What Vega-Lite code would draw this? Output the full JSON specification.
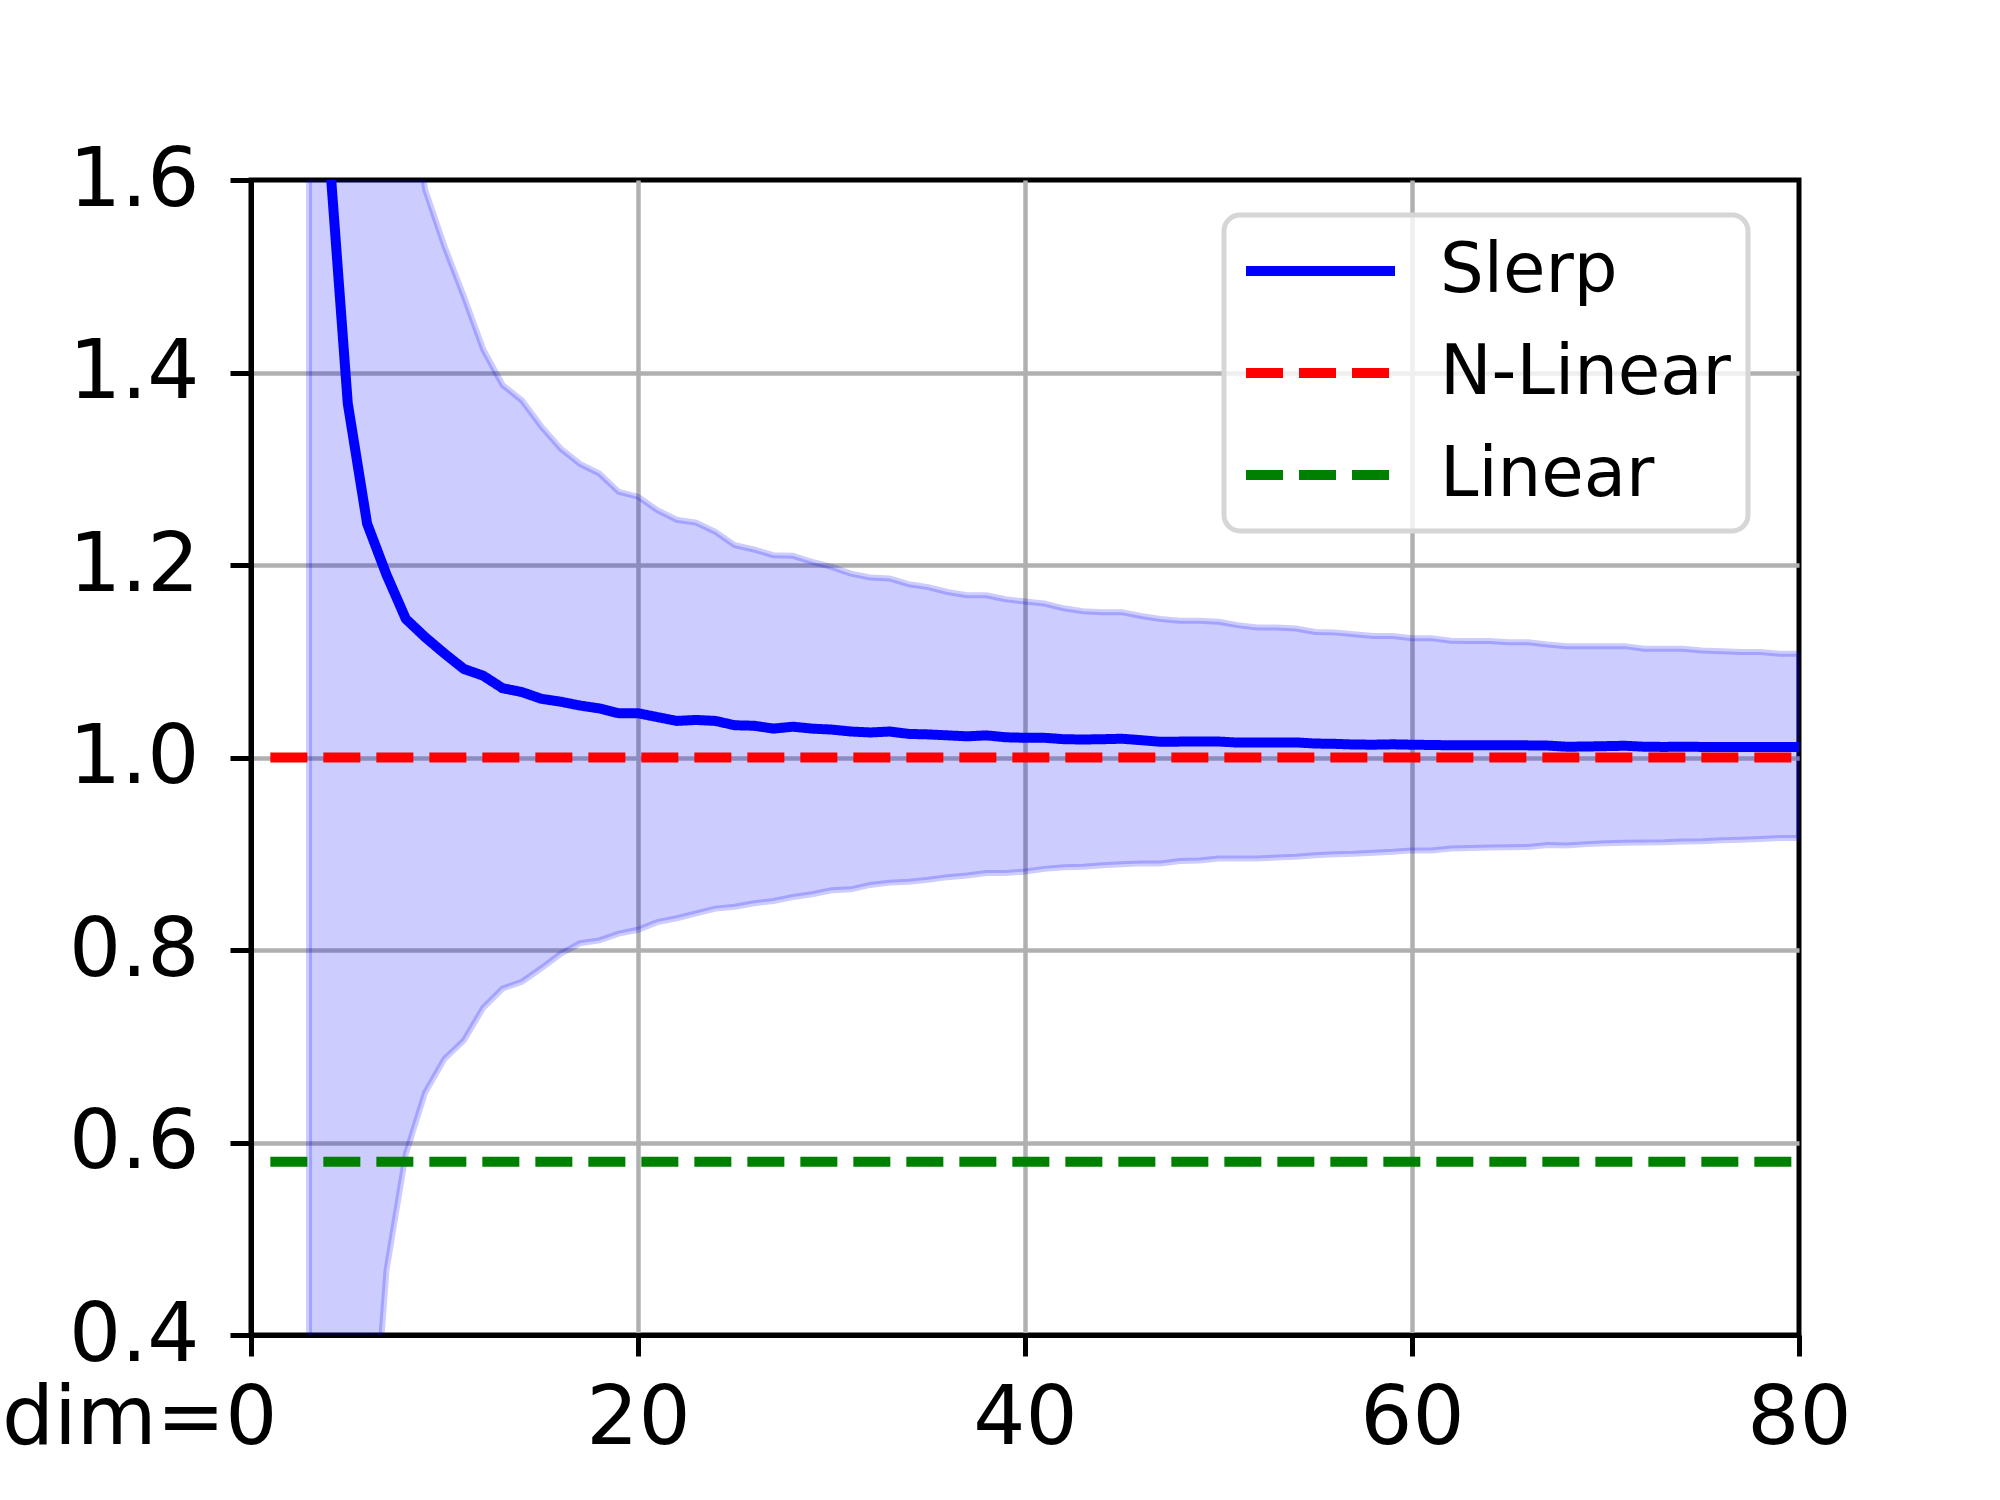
{
  "$schema": "https://vega.github.io/schema/vega-lite/v6.json",
  "width": 1548,
  "height": 1155,
  "autosize": "none",
  "padding": {"left": 251, "top": 180, "right": 201, "bottom": 165},
  "background": "white",
  "datasets": {
    "band": [
      {"dim": 3, "mean": 2.2, "lo": -1.5, "hi": 3.5},
      {"dim": 4, "mean": 1.64, "lo": -0.6, "hi": 2.6},
      {"dim": 5, "mean": 1.368, "lo": -0.05, "hi": 2.2},
      {"dim": 6, "mean": 1.243, "lo": 0.2, "hi": 1.98},
      {"dim": 7, "mean": 1.19, "lo": 0.467, "hi": 1.84},
      {"dim": 8, "mean": 1.144, "lo": 0.588, "hi": 1.72},
      {"dim": 9, "mean": 1.125, "lo": 0.652, "hi": 1.59},
      {"dim": 10, "mean": 1.108, "lo": 0.687, "hi": 1.531},
      {"dim": 11, "mean": 1.092, "lo": 0.706, "hi": 1.479},
      {"dim": 12, "mean": 1.085, "lo": 0.74, "hi": 1.424},
      {"dim": 13, "mean": 1.072, "lo": 0.76, "hi": 1.387},
      {"dim": 14, "mean": 1.068, "lo": 0.767, "hi": 1.371},
      {"dim": 15, "mean": 1.061, "lo": 0.781, "hi": 1.344},
      {"dim": 16, "mean": 1.058, "lo": 0.796, "hi": 1.321},
      {"dim": 17, "mean": 1.054, "lo": 0.807, "hi": 1.305},
      {"dim": 18, "mean": 1.051, "lo": 0.81, "hi": 1.295},
      {"dim": 19, "mean": 1.046, "lo": 0.817, "hi": 1.276},
      {"dim": 20, "mean": 1.046, "lo": 0.821, "hi": 1.271},
      {"dim": 21, "mean": 1.042, "lo": 0.829, "hi": 1.257},
      {"dim": 22, "mean": 1.038, "lo": 0.833, "hi": 1.247},
      {"dim": 23, "mean": 1.039, "lo": 0.838, "hi": 1.244},
      {"dim": 24, "mean": 1.038, "lo": 0.843, "hi": 1.2345},
      {"dim": 25, "mean": 1.0335, "lo": 0.845, "hi": 1.2206},
      {"dim": 26, "mean": 1.033, "lo": 0.8485, "hi": 1.2161},
      {"dim": 27, "mean": 1.03, "lo": 0.851, "hi": 1.2102},
      {"dim": 28, "mean": 1.032, "lo": 0.855, "hi": 1.2095},
      {"dim": 29, "mean": 1.03, "lo": 0.858, "hi": 1.2033},
      {"dim": 30, "mean": 1.029, "lo": 0.862, "hi": 1.198},
      {"dim": 31, "mean": 1.027, "lo": 0.863, "hi": 1.191},
      {"dim": 32, "mean": 1.026, "lo": 0.8676, "hi": 1.187},
      {"dim": 33, "mean": 1.027, "lo": 0.87, "hi": 1.186},
      {"dim": 34, "mean": 1.0245, "lo": 0.871, "hi": 1.18},
      {"dim": 35, "mean": 1.024, "lo": 0.873, "hi": 1.177},
      {"dim": 36, "mean": 1.023, "lo": 0.8757, "hi": 1.172},
      {"dim": 37, "mean": 1.022, "lo": 0.8774, "hi": 1.1686},
      {"dim": 38, "mean": 1.023, "lo": 0.88, "hi": 1.1686},
      {"dim": 39, "mean": 1.021, "lo": 0.88, "hi": 1.1644},
      {"dim": 40, "mean": 1.0205, "lo": 0.8815, "hi": 1.162},
      {"dim": 41, "mean": 1.0205, "lo": 0.8843, "hi": 1.16},
      {"dim": 42, "mean": 1.019, "lo": 0.886, "hi": 1.155},
      {"dim": 43, "mean": 1.0187, "lo": 0.8866, "hi": 1.152},
      {"dim": 44, "mean": 1.019, "lo": 0.888, "hi": 1.151},
      {"dim": 45, "mean": 1.0195, "lo": 0.889, "hi": 1.151},
      {"dim": 46, "mean": 1.018, "lo": 0.89, "hi": 1.147},
      {"dim": 47, "mean": 1.0163, "lo": 0.89, "hi": 1.144},
      {"dim": 48, "mean": 1.0165, "lo": 0.8925, "hi": 1.142},
      {"dim": 49, "mean": 1.0166, "lo": 0.893, "hi": 1.142},
      {"dim": 50, "mean": 1.0166, "lo": 0.895, "hi": 1.141},
      {"dim": 51, "mean": 1.0155, "lo": 0.895, "hi": 1.1375},
      {"dim": 52, "mean": 1.0155, "lo": 0.895, "hi": 1.135},
      {"dim": 53, "mean": 1.0155, "lo": 0.896, "hi": 1.135},
      {"dim": 54, "mean": 1.0157, "lo": 0.897, "hi": 1.134},
      {"dim": 55, "mean": 1.0145, "lo": 0.8985, "hi": 1.1305},
      {"dim": 56, "mean": 1.0142, "lo": 0.8995, "hi": 1.13},
      {"dim": 57, "mean": 1.0135, "lo": 0.9, "hi": 1.128},
      {"dim": 58, "mean": 1.0133, "lo": 0.901, "hi": 1.1263},
      {"dim": 59, "mean": 1.0137, "lo": 0.902, "hi": 1.1263},
      {"dim": 60, "mean": 1.0133, "lo": 0.9035, "hi": 1.124},
      {"dim": 61, "mean": 1.013, "lo": 0.9035, "hi": 1.124},
      {"dim": 62, "mean": 1.0127, "lo": 0.9055, "hi": 1.1212},
      {"dim": 63, "mean": 1.0127, "lo": 0.906, "hi": 1.121},
      {"dim": 64, "mean": 1.0127, "lo": 0.9066, "hi": 1.121},
      {"dim": 65, "mean": 1.0127, "lo": 0.9068, "hi": 1.1198},
      {"dim": 66, "mean": 1.0126, "lo": 0.907, "hi": 1.1198},
      {"dim": 67, "mean": 1.0124, "lo": 0.909, "hi": 1.1174},
      {"dim": 68, "mean": 1.0112, "lo": 0.9085, "hi": 1.1157},
      {"dim": 69, "mean": 1.0114, "lo": 0.91, "hi": 1.1157},
      {"dim": 70, "mean": 1.0118, "lo": 0.911, "hi": 1.1157},
      {"dim": 71, "mean": 1.0122, "lo": 0.9115, "hi": 1.1157},
      {"dim": 72, "mean": 1.0112, "lo": 0.9118, "hi": 1.113},
      {"dim": 73, "mean": 1.011, "lo": 0.912, "hi": 1.113},
      {"dim": 74, "mean": 1.0112, "lo": 0.9128, "hi": 1.113},
      {"dim": 75, "mean": 1.011, "lo": 0.913, "hi": 1.1112},
      {"dim": 76, "mean": 1.011, "lo": 0.914, "hi": 1.1105},
      {"dim": 77, "mean": 1.0108, "lo": 0.9145, "hi": 1.1095},
      {"dim": 78, "mean": 1.011, "lo": 0.9152, "hi": 1.1095},
      {"dim": 79, "mean": 1.0108, "lo": 0.9163, "hi": 1.1078},
      {"dim": 80, "mean": 1.0108, "lo": 0.9163, "hi": 1.1078}
    ],
    "refs": [
      {"dim": 1, "series": "N-Linear", "value": 1.0},
      {"dim": 80, "series": "N-Linear", "value": 1.0},
      {"dim": 1, "series": "Linear", "value": 0.58},
      {"dim": 80, "series": "Linear", "value": 0.58}
    ]
  },
  "layer": [
    {
      "data": {"name": "band"},
      "mark": {
        "type": "area",
        "clip": true,
        "fill": "#0000ff",
        "fillOpacity": 0.2,
        "stroke": "#0000ff",
        "strokeOpacity": 0.2,
        "strokeWidth": 6
      },
      "encoding": {
        "x": {
          "field": "dim",
          "type": "quantitative",
          "scale": {"domain": [0, 80], "nice": false, "zero": false},
          "axis": {
            "values": [0, 20, 40, 60, 80],
            "title": null,
            "labelFlush": false,
            "labelOverlap": false,
            "labelExpr": "datum.value == 0 ? 'dim=0' : datum.label",
            "labelAlign": {"condition": {"test": "datum.value == 0", "value": "right"}, "value": "center"},
            "labelOffset": {"condition": {"test": "datum.value == 0", "value": 26}, "value": 0},
            "gridOpacity": {"condition": {"test": "datum.value == 0 || datum.value == 80", "value": 0}, "value": 1},
            "labelPadding": 22
          }
        },
        "y": {
          "field": "lo",
          "type": "quantitative",
          "scale": {"domain": [0.4, 1.6], "nice": false, "zero": false},
          "axis": {
            "values": [0.4, 0.6, 0.8, 1.0, 1.2, 1.4, 1.6],
            "format": ".1f",
            "title": null,
            "gridOpacity": {"condition": {"test": "datum.value < 0.45 || datum.value > 1.55", "value": 0}, "value": 1},
            "labelPadding": 31
          }
        },
        "y2": {"field": "hi"}
      }
    },
    {
      "data": {"name": "band"},
      "mark": {"type": "line", "clip": true, "strokeWidth": 10, "strokeJoin": "round"},
      "encoding": {
        "x": {"field": "dim", "type": "quantitative"},
        "y": {"field": "mean", "type": "quantitative"},
        "color": {"datum": "Slerp"},
        "strokeDash": {"datum": "Slerp"}
      }
    },
    {
      "data": {"name": "refs"},
      "mark": {"type": "line", "clip": true, "strokeWidth": 10},
      "encoding": {
        "x": {"field": "dim", "type": "quantitative"},
        "y": {"field": "value", "type": "quantitative"},
        "color": {
          "field": "series",
          "type": "nominal",
          "scale": {"domain": ["Slerp", "N-Linear", "Linear"], "range": ["#0000ff", "#ff0000", "#008000"]},
          "legend": {
            "title": null,
            "orient": "none",
            "legendX": 973,
            "legendY": 35,
            "padding": 17,
            "cornerRadius": 16,
            "strokeColor": "#d6d6d6",
            "fillColor": "rgba(255,255,255,0.8)",
            "symbolType": "stroke",
            "symbolSize": 22201,
            "symbolStrokeWidth": 10,
            "clipHeight": 78,
            "labelFont": "DejaVu Sans",
            "labelFontSize": 69,
            "labelColor": "black",
            "labelLimit": 0,
            "labelOffset": 40,
            "rowPadding": 24,
            "encode": {"legend": {"update": {"strokeWidth": {"value": 5}}}}
          }
        },
        "strokeDash": {
          "field": "series",
          "type": "nominal",
          "scale": {"domain": ["Slerp", "N-Linear", "Linear"], "range": [[1, 0], [37, 16], [37, 16]]}
        }
      }
    }
  ],
  "config": {
    "view": {"stroke": "black", "strokeWidth": 5},
    "axis": {
      "labelFont": "DejaVu Sans",
      "labelFontSize": 82,
      "labelColor": "black",
      "labelLimit": 0,
      "domainColor": "black",
      "domainWidth": 5,
      "tickColor": "black",
      "tickWidth": 5,
      "tickSize": 21,
      "grid": true,
      "gridColor": "#b0b0b0",
      "gridWidth": 4.5
    }
  }
}
